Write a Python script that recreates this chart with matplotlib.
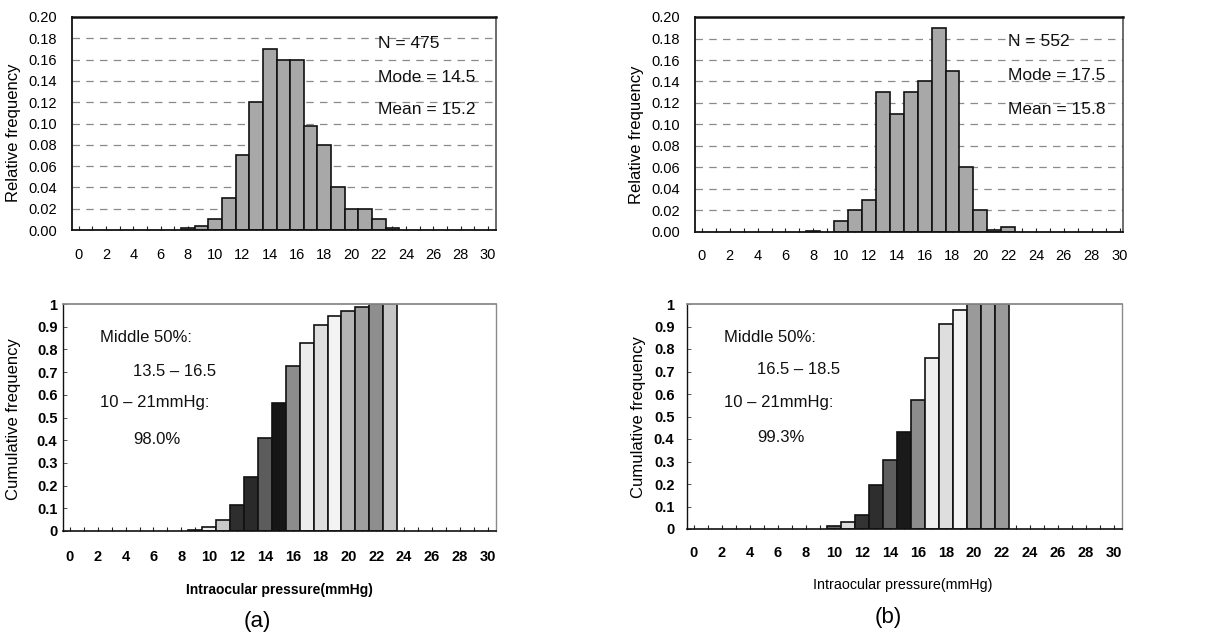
import matplotlib
matplotlib.use("Agg")
import matplotlib.pyplot as plt
from matplotlib.ticker import MultipleLocator, FixedLocator

plt.rcParams['font.family'] = ['Liberation Sans', 'DejaVu Sans']

# ---------------- data ----------------
press_a = [8, 9, 10, 11, 12, 13, 14, 15, 16, 17, 18, 19, 20, 21, 22, 23]
rel_a = [0.002, 0.004, 0.01, 0.03, 0.07, 0.12, 0.17, 0.16, 0.16, 0.098, 0.08, 0.04, 0.02, 0.02, 0.01, 0.002]

press_b = [8, 10, 11, 12, 13, 14, 15, 16, 17, 18, 19, 20, 21, 22]
rel_b = [0.001, 0.01, 0.02, 0.03, 0.13, 0.11, 0.13, 0.14, 0.19, 0.15, 0.06, 0.02, 0.002, 0.005]

cum_x_a = [9, 10, 11, 12, 13, 14, 15, 16, 17, 18, 19, 20, 21, 22, 23]
cum_a = [0.006, 0.018, 0.047, 0.116, 0.238, 0.408, 0.566, 0.728, 0.829, 0.906, 0.948, 0.967, 0.987, 0.998, 1.0]
cum_col_a = ['#3a3a3a', '#eeeeee', '#c8c8c8', '#2e2e2e', '#2a2a2a', '#5c5c5c', '#161616', '#8c8c8c',
             '#ececec', '#dedede', '#f3f3f3', '#b4b4b4', '#9e9e9e', '#8e8e8e', '#c6c6c6']

cum_x_b = [10, 11, 12, 13, 14, 15, 16, 17, 18, 19, 20, 21, 22]
cum_b = [0.014, 0.03, 0.063, 0.196, 0.305, 0.43, 0.574, 0.76, 0.913, 0.973, 0.998, 1.0, 1.0]
cum_col_b = ['#6a6a6a', '#dcdcdc', '#333333', '#2e2e2e', '#5e5e5e', '#1a1a1a', '#8c8c8c',
             '#f0f0f0', '#dedede', '#f4f4f4', '#9a9a9a', '#aaaaaa', '#9a9a9a']

stats_a = ["N = 475", "Mode = 14.5", "Mean = 15.2"]
stats_b = ["N = 552", "Mode = 17.5", "Mean = 15.8"]
notes_a = ["Middle 50%:", "13.5 – 16.5", "10 – 21mmHg:", "98.0%"]
notes_b = ["Middle 50%:", "16.5 – 18.5", "10 – 21mmHg:", "99.3%"]

rel_ticks = [0.00, 0.02, 0.04, 0.06, 0.08, 0.10, 0.12, 0.14, 0.16, 0.18, 0.20]
rel_ticklabels = ["0.00", "0.02", "0.04", "0.06", "0.08", "0.10", "0.12", "0.14", "0.16", "0.18", "0.20"]
cum_ticks = [0, 0.1, 0.2, 0.3, 0.4, 0.5, 0.6, 0.7, 0.8, 0.9, 1.0]
cum_ticklabels = ["0", "0.1", "0.2", "0.3", "0.4", "0.5", "0.6", "0.7", "0.8", "0.9", "1"]
x_ticks = list(range(0, 31, 2))
x_ticklabels = [str(v) for v in x_ticks]

# ---------------- layout ----------------
W, H = 1219, 634
fig = plt.figure(figsize=(W / 100, H / 100), dpi=100)
fig.patch.set_facecolor('white')


def add_ax(l, t, r, b):
    return fig.add_axes([l / W, 1 - b / H, (r - l) / W, (b - t) / H])


def fx(x, y):
    return x / W, 1 - y / H


def style_x(ax, pad, right=30.6, bold=False):
    ax.set_xlim(-0.5, right)
    ax.xaxis.set_major_locator(FixedLocator(x_ticks))
    ax.xaxis.set_minor_locator(MultipleLocator(1))
    ax.set_xticklabels(x_ticklabels, fontsize=10.5, fontweight='bold' if bold else 'normal')
    ax.tick_params(axis='x', which='both', direction='in', length=3, width=0.8, pad=pad, color='#222222')


# ---- top histograms ----
def hist_panel(ax, xs, ys, stats, stat_pos, ypad):
    ax.set_ylim(0, 0.20)
    ax.set_yticks(rel_ticks)
    ax.set_yticklabels(rel_ticklabels, fontsize=10.5)
    ax.tick_params(axis='y', direction='in', length=0, pad=ypad)
    for v in rel_ticks[1:-1]:
        ax.axhline(v, color='#8a8a8a', lw=0.9, ls=(0, (6, 5)), zorder=0)
    ax.bar(xs, ys, width=1.0, color='#a8a8a8', edgecolor='#111111', linewidth=1.2, zorder=2)
    for s in ['left', 'bottom', 'top']:
        ax.spines[s].set_color('#111111')
        ax.spines[s].set_linewidth(1.3)
    ax.spines['top'].set_linewidth(1.8)
    ax.spines['right'].set_color('#444444')
    ax.spines['right'].set_linewidth(1.1)
    for txt, (px_, py_) in zip(stats, stat_pos):
        fig.text(*fx(px_, py_), txt, fontsize=12.5, ha='left', va='center', color='#111111')


ax1 = add_ax(72, 17, 496, 230)
hist_panel(ax1, press_a, rel_a, stats_a, [(378, 43), (378, 77), (378, 110)], 11)
style_x(ax1, 13)
fig.text(*fx(14, 133), "Relative frequency", fontsize=12, rotation=90, ha='center', va='center')

ax2 = add_ax(695, 17, 1123, 232)
hist_panel(ax2, press_b, rel_b, stats_b, [(1008, 42), (1008, 76), (1008, 109)], 11)
style_x(ax2, 12, right=30.25)
fig.text(*fx(637, 135), "Relative frequency", fontsize=12, rotation=90, ha='center', va='center')


# ---- bottom cumulative ----
def cum_panel(ax, xs, ys, cols, notes, note_pos, ypad):
    ax.set_ylim(0, 1.0)
    ax.set_yticks(cum_ticks)
    ax.set_yticklabels(cum_ticklabels, fontsize=10.5, fontweight='bold')
    ax.tick_params(axis='y', direction='in', length=3, width=0.7, pad=ypad, color='#555555')
    ax.bar(xs, ys, width=1.0, color=cols, edgecolor='#111111', linewidth=1.2, zorder=2)
    ax.spines['left'].set_color('#111111')
    ax.spines['bottom'].set_color('#111111')
    ax.spines['left'].set_linewidth(1.0)
    ax.spines['bottom'].set_linewidth(1.2)
    ax.spines['top'].set_color('#8a8a8a')
    ax.spines['right'].set_color('#8a8a8a')
    ax.spines['top'].set_linewidth(1.3)
    ax.spines['right'].set_linewidth(1.0)
    for txt, (px_, py_) in zip(notes, note_pos):
        fig.text(*fx(px_, py_), txt, fontsize=12, ha='left', va='center', color='#111111')


ax3 = add_ax(63, 304, 496, 531)
cum_panel(ax3, cum_x_a, cum_a, cum_col_a, notes_a, [(100, 338), (133, 371), (100, 402), (133, 439)], 4)
style_x(ax3, 14, bold=True)
fig.text(*fx(14, 419), "Cumulative frequency", fontsize=12, rotation=90, ha='center', va='center')
fig.text(*fx(279, 590), "Intraocular pressure(mmHg)", fontsize=10, fontweight='bold', ha='center', va='center')
fig.text(*fx(257, 621), "(a)", fontsize=16, ha='center', va='center')

ax4 = add_ax(687, 304, 1122, 529)
cum_panel(ax4, cum_x_b, cum_b, cum_col_b, notes_b, [(724, 337), (757, 370), (724, 403), (757, 437)], 9)
style_x(ax4, 12, bold=True)
fig.text(*fx(638, 417), "Cumulative frequency", fontsize=12, rotation=90, ha='center', va='center')
fig.text(*fx(903, 585), "Intraocular pressure(mmHg)", fontsize=10.3, ha='center', va='center')
fig.text(*fx(888, 618), "(b)", fontsize=16, ha='center', va='center')

fig.savefig("out.png", dpi=100, facecolor='white')
